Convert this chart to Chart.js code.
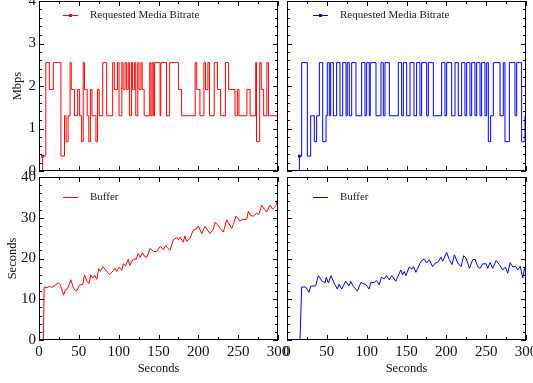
<!DOCTYPE html>
<html lang="en">
<head>
<meta charset="UTF-8">
<title>Requested bitrate and buffer</title>
<script src="https://cdn.jsdelivr.net/npm/chart.js"></script>
<style>
  body { margin: 0; background: #fff; }
  #wrap { position: relative; width: 533px; height: 383px; }
  canvas { position: absolute; left: 0; top: 0; }
</style>
</head>
<body>
<div id="wrap">
  <canvas id="rateLeft" width="533" height="383"></canvas>
  <canvas id="rateRight" width="533" height="383"></canvas>
  <canvas id="bufLeft" width="533" height="383"></canvas>
  <canvas id="bufRight" width="533" height="383"></canvas>
</div>
<script>
// requested bitrate (Mbps), change points: value holds from time until next time
const redRateTimes  = [4.5, 4.5, 8.5, 13, 18, 27.5, 32, 34, 36.5, 39, 40.5, 44.5, 48.5, 51, 53.5, 55.5, 57, 60.5, 62.5, 64.5, 66.5, 71.5, 73.5, 75.5, 80, 85, 92.5, 94.5, 98.5, 100.5, 104, 105.5, 108, 110, 112, 113.5, 116, 117.5, 120, 121.5, 124, 125.5, 128, 129.5, 132, 139, 140.5, 142, 143.5, 145, 152, 153, 160, 164, 175, 179, 196, 198, 202, 207, 209, 212, 214, 220, 224, 228, 234, 238, 246, 249, 251, 261, 265, 272, 273, 277, 279, 282, 286, 288, 300];
const redRateValues = [0, 0.35, 2.55, 1.92, 2.55, 0.35, 1.3, 0.69, 1.3, 2.55, 1.92, 1.3, 1.92, 1.3, 0.69, 2.55, 1.92, 1.3, 0.69, 1.92, 1.3, 0.69, 1.92, 1.3, 2.55, 1.3, 2.55, 1.92, 2.55, 1.3, 2.55, 1.92, 2.55, 1.92, 2.55, 1.3, 2.55, 1.92, 2.55, 1.3, 2.55, 1.92, 2.55, 1.92, 1.3, 2.55, 1.3, 2.55, 1.3, 2.55, 1.3, 2.55, 1.3, 2.55, 1.92, 1.3, 2.55, 1.92, 1.3, 2.55, 1.92, 2.55, 1.3, 2.55, 1.92, 1.3, 2.55, 1.92, 1.3, 1.92, 1.3, 1.92, 1.3, 2.55, 0.69, 2.55, 1.92, 1.3, 2.55, 1.3, 1.3];

const blueRateTimes  = [15.5, 15.5, 18.4, 25.5, 29.7, 34.3, 37.2, 40.6, 44.8, 49, 50.6, 53.1, 54.8, 58.2, 62.3, 66.5, 69.9, 74.1, 75.7, 78.2, 81.2, 86.6, 93.7, 97.9, 100, 103.3, 104.5, 111.7, 118, 120.9, 123, 128.5, 139.7, 143.9, 146, 150.2, 154.4, 159.4, 162.7, 166.9, 169, 175.3, 177.4, 183.7, 194.1, 198.3, 200.4, 206.7, 210.9, 215, 219.2, 223.4, 225.5, 229.7, 231.8, 236, 238.1, 242.3, 244.3, 248.5, 250.6, 252.7, 255.6, 259, 267.4, 271.5, 273.6, 279.1, 286.2, 288.3, 294.5, 298.7, 300];
const blueRateValues = [0, 0.35, 2.55, 0.35, 1.3, 0.69, 1.3, 2.55, 0.69, 1.3, 2.55, 1.3, 2.55, 1.3, 2.55, 1.3, 2.55, 1.3, 2.55, 1.3, 2.55, 1.3, 2.55, 1.3, 2.55, 1.3, 2.55, 1.3, 2.55, 1.3, 2.55, 1.3, 2.55, 1.3, 2.55, 1.3, 2.55, 1.3, 2.55, 1.3, 2.55, 1.3, 2.55, 1.3, 2.55, 1.3, 2.55, 1.3, 2.55, 1.3, 2.55, 1.3, 2.55, 1.3, 2.55, 1.3, 2.55, 1.3, 2.55, 1.3, 2.55, 0.69, 1.3, 2.55, 1.3, 2.55, 0.69, 2.55, 1.3, 2.55, 0.69, 1.3, 1.3];

// buffer level (seconds)
const redBufTimes  = [5.4, 6.5, 10, 13, 16, 20, 24, 26.5, 31, 33, 35, 37.5, 40, 43.5, 47, 51, 55, 57, 60.5, 63, 65, 67.5, 70, 72.5, 75, 77, 80, 83, 86, 89, 93, 95.5, 97.5, 100.5, 104, 106, 108.5, 112, 114, 116.5, 119, 122, 124.5, 127, 130, 133, 135.5, 139.5, 143.5, 147.5, 152.5, 156, 159, 161, 164.4, 168.6, 172.8, 175, 177, 181.2, 183, 185.4, 189.5, 193.7, 197, 200, 204.2, 208.4, 214.6, 218.8, 220.9, 224, 227.2, 231.4, 235.6, 241.8, 243.9, 247.3, 252.3, 256, 260.7, 262.8, 266, 269, 273.2, 276, 279.5, 283, 285.8, 289.9, 293.3, 297.5, 300];
const redBufValues = [0, 13, 12.8, 13.2, 12.9, 13.4, 14, 13.6, 11, 12.3, 12.4, 13.4, 14.8, 12.6, 12, 13.5, 13.6, 16, 14.3, 13.9, 16, 15.2, 15.9, 14.9, 17.5, 16.8, 18, 17.4, 16.6, 16.1, 17, 17.6, 16.8, 17.9, 17.1, 18.7, 18.2, 19.8, 18.3, 19.3, 19.9, 19.8, 21.2, 20.3, 21.4, 20.4, 20.3, 22.5, 21.7, 21.7, 23, 22.1, 23.2, 22.7, 22, 24.6, 25.1, 24.6, 25.2, 24, 25.5, 24.2, 25, 27, 27.2, 28, 26.1, 27.9, 26.1, 27.2, 28.9, 28.3, 27.4, 26.5, 29.5, 27.4, 28.3, 30.4, 29.2, 29.6, 29.6, 31.6, 30.5, 30.4, 31.1, 30.8, 33.1, 32, 31.4, 33.1, 32.1, 33, 35];

const blueBufTimes  = [16.3, 18.4, 23.4, 27.6, 29.7, 36, 39.3, 44.3, 47.7, 49.4, 51.9, 55.3, 59, 63.2, 65.3, 68.7, 73.7, 77.9, 80, 83, 88.4, 92.6, 98.9, 103.1, 105.2, 109.4, 112.3, 115.7, 118.6, 122, 124.9, 128.3, 131.6, 136.6, 138.7, 142.9, 145, 147.1, 149.2, 153.4, 156.8, 158.9, 161.8, 168.1, 172.3, 175.2, 178.6, 182.8, 186.1, 189.1, 193.3, 195.4, 200.4, 203.8, 207.1, 210.1, 214.3, 218.5, 221.8, 224.7, 228.9, 233.1, 236.1, 239.4, 242.3, 245.7, 249.9, 252, 254.9, 258.3, 262.5, 266.6, 270.8, 274.2, 277.1, 280.1, 283.4, 286.8, 289.7, 292.7, 296, 298.1, 300];
const blueBufValues = [0, 13, 13, 11.7, 13.2, 13.3, 15.8, 14.4, 14, 15.4, 14, 15.8, 14, 12.5, 13.7, 12.5, 14.4, 13.3, 14.4, 13.2, 12, 14.1, 13.6, 12.5, 14.1, 14.1, 14.6, 13.6, 15.4, 15, 15.8, 14.8, 15.8, 14.4, 15.4, 17.2, 16, 16.8, 15.8, 17.9, 17.4, 18, 16.6, 19.3, 19.9, 18.9, 19.7, 18, 18.9, 19, 20.3, 19.3, 21.5, 19.7, 18.5, 20.9, 18.9, 18, 20.7, 20.1, 17.6, 19.7, 19.8, 18, 17.6, 18.7, 18.7, 17.6, 19, 17.6, 19.5, 18.5, 17.2, 17.9, 16.4, 19, 17.9, 18.1, 17.2, 18.1, 15.2, 17.6, 17.5];

const xTickLabels = [0, 50, 100, 150, 200, 250, 300];
const rateTickLabels = [0, 1, 2, 3, 4];
const bufTickLabels = [0, 10, 20, 30, 40];

const W = 533, H = 383;
const FONT = "'Liberation Serif', 'Times New Roman', serif";
Chart.defaults.font.family = FONT;
Chart.defaults.color = '#111';

function pts(ts, vs) { return ts.map((t, i) => ({x: t, y: vs[i]})); }

// frame plus inward ticks on all four sides
const frameTicks = {
  id: 'frameTicks',
  afterDraw(chart, args, o) {
    const {ctx, chartArea: a, scales: {x, y}} = chart;
    ctx.save();
    ctx.strokeStyle = '#000';
    ctx.lineWidth = 1;
    ctx.beginPath();
    for (let i = 0; i <= 12; i++) {
      const v = i * 25;
      const px = Math.round(x.getPixelForValue(v)) + 0.5;
      const len = i % 2 === 0 ? 5 : 3;
      ctx.moveTo(px, a.bottom); ctx.lineTo(px, a.bottom - len);
      ctx.moveTo(px, a.top); ctx.lineTo(px, a.top + len);
    }
    const n = Math.round(o.yMax / o.yMinor);
    const every = Math.round(o.yMajor / o.yMinor);
    for (let i = 0; i <= n; i++) {
      const py = Math.round(y.getPixelForValue(i * o.yMinor)) + 0.5;
      const len = i % every === 0 ? 5 : 3;
      ctx.moveTo(a.left, py); ctx.lineTo(a.left + len, py);
      ctx.moveTo(a.right, py); ctx.lineTo(a.right - len, py);
    }
    ctx.stroke();
    ctx.strokeRect(Math.round(a.left) + 0.5, Math.round(a.top) + 0.5,
      Math.round(a.right - a.left) - 1, Math.round(a.bottom - a.top) - 1);
    ctx.restore();
  }
};

const insideLegend = {
  id: 'insideLegend',
  afterDraw(chart, args, o) {
    const {ctx, chartArea: a} = chart;
    const ds = chart.data.datasets[0];
    const x0 = a.left + o.dx, y0 = a.top + o.dy;
    ctx.save();
    ctx.strokeStyle = ds.borderColor;
    ctx.lineWidth = 1;
    ctx.beginPath();
    ctx.moveTo(x0, y0 + 0.5); ctx.lineTo(x0 + 15, y0 + 0.5);
    ctx.stroke();
    if (o.marker) {
      ctx.fillStyle = ds.borderColor;
      ctx.fillRect(x0 + 6, y0 - 1, 3, 3);
    }
    ctx.fillStyle = '#222';
    ctx.font = '11px ' + FONT;
    ctx.textBaseline = 'middle';
    ctx.fillText(ds.label, x0 + 27, y0 + 0.5);
    ctx.restore();
  }
};

function panel(id, cfg) {
  const a = cfg.area;
  const lineDs = {
    label: cfg.label,
    data: pts(cfg.times, cfg.values),
    borderColor: cfg.color,
    borderWidth: 1,
    stepped: cfg.stepped ? 'before' : false,
    tension: 0,
    pointStyle: 'rect',
    pointRadius: cfg.stepped ? (c => c.dataIndex === 1 ? 2 : 0) : 0,
    pointBackgroundColor: cfg.color,
    pointBorderWidth: 0
  };
  return new Chart(document.getElementById(id), {
    type: 'line',
    data: { datasets: [lineDs] },
    options: {
      responsive: false,
      animation: false,
      events: [],
      layout: { padding: { left: 0, top: a.t, right: W - a.r, bottom: 0 } },
      plugins: {
        legend: { display: false },
        tooltip: { enabled: false },
        frameTicks: { yMax: cfg.yMax, yMajor: cfg.yMajor, yMinor: cfg.yMinor },
        insideLegend: { dx: cfg.legend[0], dy: cfg.legend[1], marker: cfg.stepped }
      },
      scales: {
        x: {
          type: 'linear', min: 0, max: 300, position: 'bottom',
          afterBuildTicks: s => { s.ticks = xTickLabels.map(v => ({value: v})); },
          ticks: { display: cfg.xLabels, autoSkip: false, maxRotation: 0, font: { size: 15 }, padding: 3 },
          grid: { display: false, drawTicks: false },
          border: { display: false },
          title: { display: cfg.xLabels, text: 'Seconds', font: { size: 12.5 }, padding: { top: 0, bottom: 7 } },
          afterFit: s => { s.height = H - a.b; s.paddingLeft = 0; s.paddingRight = 0; }
        },
        y: {
          type: 'linear', min: 0, max: cfg.yMax, position: 'left',
          afterBuildTicks: s => { s.ticks = cfg.yTicks.map(v => ({value: v})); },
          ticks: { display: !!cfg.yTitle, font: { size: 15 }, padding: 3 },
          grid: { display: false, drawTicks: false },
          border: { display: false },
          title: { display: !!cfg.yTitle, text: cfg.yTitle || '', font: { size: 12.5 }, padding: { top: cfg.yTitlePad || 0, bottom: 0 } },
          afterFit: s => { s.width = a.l; s.paddingTop = 0; s.paddingBottom = 0; }
        }
      }
    },
    plugins: [frameTicks, insideLegend]
  });
}

const topArea = (l, r) => ({ l, r, t: 1, b: 171 });
const botArea = (l, r) => ({ l, r, t: 177, b: 340 });

panel('rateLeft', {
  area: topArea(39, 278), label: 'Requested Media Bitrate', color: '#ff0000',
  times: redRateTimes, values: redRateValues, stepped: true,
  yMax: 4, yMajor: 1, yMinor: 0.2, yTicks: rateTickLabels, yTitle: 'Mbps', yTitlePad: 10,
  xLabels: false, legend: [24, 14]
});
panel('rateRight', {
  area: topArea(287, 526), label: 'Requested Media Bitrate', color: '#0000ff',
  times: blueRateTimes, values: blueRateValues, stepped: true,
  yMax: 4, yMajor: 1, yMinor: 0.2, yTicks: rateTickLabels,
  xLabels: false, legend: [26, 14]
});
panel('bufLeft', {
  area: botArea(39, 278), label: 'Buffer', color: '#ff0000',
  times: redBufTimes, values: redBufValues, stepped: false,
  yMax: 40, yMajor: 10, yMinor: 2, yTicks: bufTickLabels, yTitle: 'Seconds', yTitlePad: 5,
  xLabels: true, legend: [24, 20]
});
panel('bufRight', {
  area: botArea(287, 526), label: 'Buffer', color: '#0000ff',
  times: blueBufTimes, values: blueBufValues, stepped: false,
  yMax: 40, yMajor: 10, yMinor: 2, yTicks: bufTickLabels,
  xLabels: true, legend: [26, 20]
});
</script>
</body>
</html>
